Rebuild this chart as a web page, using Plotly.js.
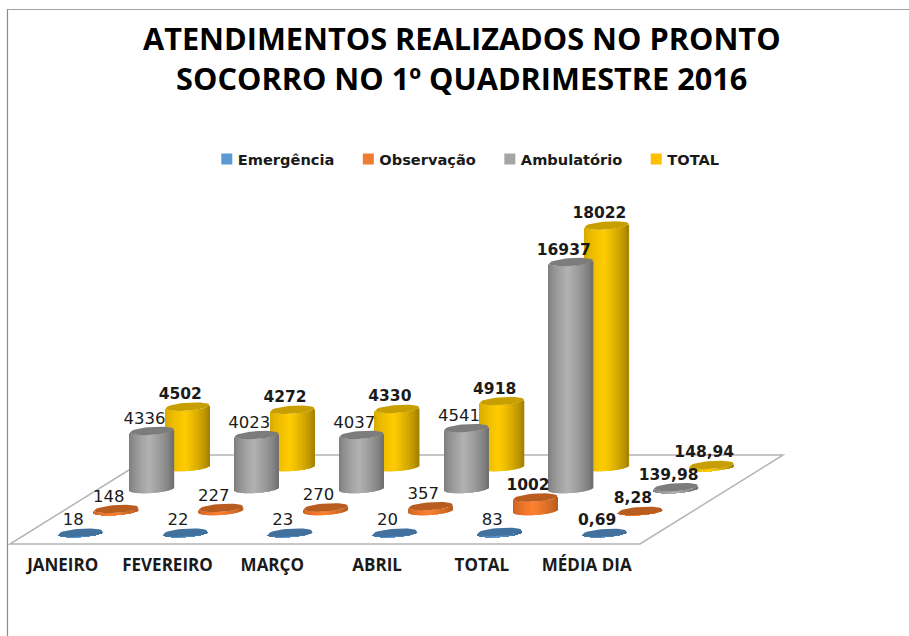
<!DOCTYPE html>
<html>
<head>
<meta charset="utf-8">
<script src="https://cdn.plot.ly/plotly-3.0.1.min.js"></script>
<style>html,body{margin:0;padding:0;background:#fff}</style>
</head>
<body>
<div id="chart" style="width:909px;height:636px"></div>
<script>
// ---- data ----
const categories = ['JANEIRO','FEVEREIRO','MARÇO','ABRIL','TOTAL','MÉDIA DIA'];
const seriesNames = ['Emergência','Observação','Ambulatório','TOTAL'];
const emergencia  = [18,22,23,20,83,0.69];
const observacao  = [148,227,270,357,1002,8.28];
const ambulatorio = [4336,4023,4037,4541,16937,139.98];
const totalGeral  = [4502,4272,4330,4918,18022,148.94];
const boldEmergencia  = [0,0,0,0,0,1];
const boldObservacao  = [0,0,0,0,1,1];
const boldAmbulatorio = [0,0,0,0,1,1];
const boldTotal       = [1,1,1,1,1,1];

// ---- styles ----
const legendColors = ['#5b9bd5','#ed7d31','#a5a5a5','#ffc000'];
const topColors    = ['#41719c','#b85c20','#7c7c7c','#c79f00'];
const bodyColors = [
  [[58,105,150],[91,155,213],[50,95,140]],
  [[200,96,32],[255,128,48],[176,92,30]],
  [[122,122,122],[178,178,178],[108,108,108]],
  [[214,168,0],[255,204,0],[160,126,0]]
];

// ---- oblique floor geometry, in axis units (category index / value) ----
const pxPerCat = 104.8, pxPerValue = 0.0134;
const x0px = 80.5, y0px = 533;
const depthX = 35.7/pxPerCat;       // category units per series row
const depthY = 22/pxPerValue;       // value units per series row
const radiusX = 22/pxPerCat;
const radiusY = 4/pxPerValue;
const tilt = 1.5/pxPerValue;
const xRange = [(0-x0px)/pxPerCat,(909-x0px)/pxPerCat];
const yRange = [(y0px-636)/pxPerValue,(y0px-0)/pxPerValue];
const pxX = p => (p-x0px)/pxPerCat;
const pxY = p => (y0px-p)/pxPerValue;

const allValues = [emergencia,observacao,ambulatorio,totalGeral];
const allBold = [boldEmergencia,boldObservacao,boldAmbulatorio,boldTotal];

function shade(s,u){
  const c = bodyColors[s], peak = -0.1;
  const t = u<peak ? (u+1)/(peak+1) : (1-u)/(1-peak);
  const a = u<peak ? c[0] : c[2], b = c[1];
  const e = Math.pow(t,0.7);
  return 'rgb('+[0,1,2].map(i=>Math.round(a[i]+(b[i]-a[i])*e)).join(',')+')';
}

const STRIPS = 44;
const barTraces = [], topTraces = [], labelTraces = [], legendTraces = [];
for (let s=3;s>=0;s--){
  const xs=[],bases=[],hs=[],cols=[],tx=[],ty=[];
  allValues[s].forEach((v,i)=>{
    const cx = i+s*depthX, cy = s*depthY;
    for(let k=0;k<STRIPS;k++){
      const u = -1+(2*k+1)/STRIPS;
      xs.push(cx+u*radiusX);
      bases.push(cy-radiusY*Math.sqrt(1-u*u)+tilt*u);
      hs.push(v);
      cols.push(shade(s,u));
    }
    for(let a=0;a<=40;a++){
      const th=a/40*2*Math.PI, u=Math.cos(th);
      tx.push(cx+radiusX*u);
      ty.push(cy+v+radiusY*Math.sin(th)+tilt*u);
    }
    tx.push(null); ty.push(null);
  });
  barTraces.push({type:'bar',name:seriesNames[s],showlegend:false,hoverinfo:'skip',
    x:xs,y:hs,base:bases,width:1.6/pxPerCat,marker:{color:cols,line:{width:0}}});
  topTraces.push({type:'scatter',mode:'lines',name:seriesNames[s]+' topo',showlegend:false,hoverinfo:'skip',
    x:tx,y:ty,fill:'toself',fillcolor:topColors[s],line:{width:0,color:topColors[s]}});
  labelTraces.push({type:'scatter',mode:'text',showlegend:false,name:seriesNames[s]+' rótulos',
    x:allValues[s].map((v,i)=>i+s*depthX-0.07),
    y:allValues[s].map(v=>s*depthY+v+850),
    text:allValues[s].map((v,i)=>{
      const t=String(v).replace('.',',');
      return allBold[s][i]?'<b>'+t+'</b>':t;
    }),
    textposition:'middle center',cliponaxis:false,
    textfont:{family:'DejaVu Sans',size:allBold[s].map(b=>b?15.5:16.5),color:'#1a1a1a'}});
}
for(let s=0;s<4;s++){
  legendTraces.push({type:'scatter',mode:'markers',name:seriesNames[s],x:[null],y:[null],
    marker:{symbol:'square',size:11,color:legendColors[s]},hoverinfo:'skip'});
}

const floorPath = 'M'+pxX(10)+','+pxY(544)+' L'+pxX(640)+','+pxY(544)+
                  ' L'+pxX(783)+','+pxY(455)+' L'+pxX(153)+','+pxY(455)+' Z';

const layout = {
  width:909,height:636,margin:{l:0,r:0,t:0,b:0},
  paper_bgcolor:'#fff',plot_bgcolor:'#fff',
  barmode:'overlay',
  title:{text:'<b>ATENDIMENTOS REALIZADOS NO PRONTO<br>SOCORRO NO 1º QUADRIMESTRE 2016</b>',
    x:0.508,xanchor:'center',y:0.921,yanchor:'bottom',
    font:{family:'Open Sans',size:30.7,color:'#000'}},
  showlegend:true,
  legend:{orientation:'h',x:0.2275,xanchor:'left',y:0.75,yanchor:'middle',
    bgcolor:'rgba(0,0,0,0)',
    font:{family:'DejaVu Sans',size:14.6,color:'#1a1a1a',weight:'bold'},traceorder:'normal'},
  xaxis:{range:xRange,anchor:'free',position:0.13,showgrid:false,zeroline:false,showline:false,ticks:'',
    tickmode:'array',tickvals:categories.map((c,i)=>i-0.17),
    ticktext:categories.map(c=>'<b>'+c+'</b>'),
    tickfont:{family:'Open Sans',size:17,color:'#1a1a1a'},fixedrange:true},
  yaxis:{range:yRange,visible:false,fixedrange:true},
  shapes:[
    {type:'path',xref:'x',yref:'y',path:floorPath,layer:'below',fillcolor:'#fff',line:{color:'#b4b4b4',width:1.5}},
    {type:'line',xref:'paper',yref:'paper',x0:7.5/909,x1:7.5/909,y0:0,y1:1-9/636,line:{color:'#8c8c8c',width:1.2}},
    {type:'line',xref:'paper',yref:'paper',x0:7.5/909,x1:1,y0:1-9.5/636,y1:1-9.5/636,line:{color:'#a0a0a0',width:1}}
  ]
};

Plotly.newPlot('chart',[...legendTraces,...barTraces,...topTraces,...labelTraces],layout,{displayModeBar:false,responsive:false}).then(()=>{
  // tighten the gap between swatch and label, as in the reference
  document.querySelectorAll('.legend .legendtext').forEach(t=>t.setAttribute('x','31'));
});
</script>
</body>
</html>
